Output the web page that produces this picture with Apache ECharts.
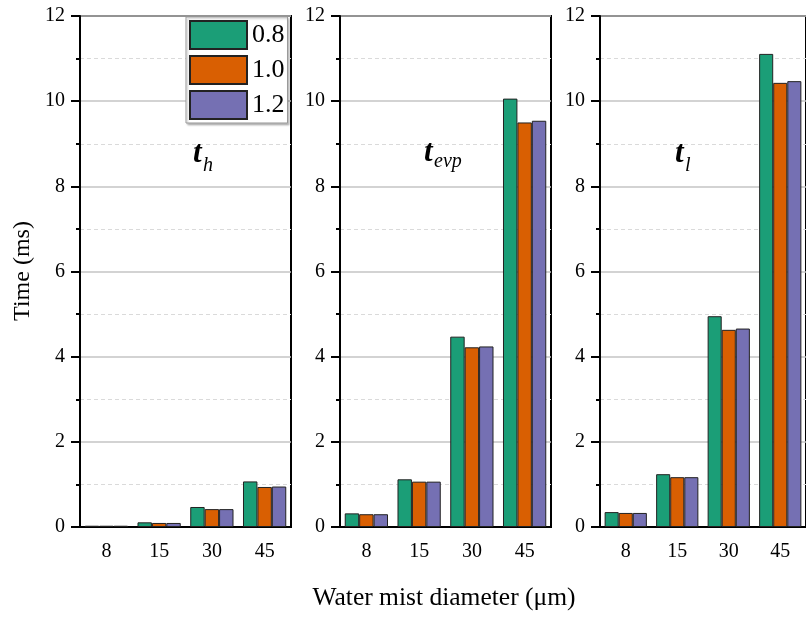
<!DOCTYPE html>
<html>
<head>
<meta charset="utf-8">
<script src="https://cdn.jsdelivr.net/npm/echarts@6/dist/echarts.min.js"></script>
<style>
  html, body { margin: 0; padding: 0; background: #fff; }
  #chart { width: 806px; height: 617px; }
</style>
</head>
<body>
<div id="chart"></div>
<script>
  // 数据
  const categories = ['8', '15', '30', '45']
  const ratioNames = ['0.8', '1.0', '1.2']
  const colors = ['#1b9e77', '#d95f02', '#7570b3']

  const th08 = [0.03, 0.11, 0.47, 1.07]
  const th10 = [0.03, 0.095, 0.42, 0.94]
  const th12 = [0.03, 0.095, 0.42, 0.95]

  const tevp08 = [0.32, 1.12, 4.47, 10.06]
  const tevp10 = [0.30, 1.065, 4.22, 9.50]
  const tevp12 = [0.30, 1.065, 4.24, 9.54]

  const tl08 = [0.35, 1.24, 4.95, 11.11]
  const tl10 = [0.33, 1.17, 4.63, 10.43]
  const tl12 = [0.33, 1.17, 4.66, 10.47]

  const panelData = [
    [th08, th10, th12],
    [tevp08, tevp10, tevp12],
    [tl08, tl10, tl12]
  ]
  const yTicks = [0, 2, 4, 6, 8, 10, 12]

  const font = 'Liberation Serif'
  const panelLeft = [80, 340, 600]
  const panelWidth = 211

  const chart = echarts.init(document.getElementById('chart'), null, { renderer: 'canvas' })

  const grids = []
  const xAxes = []
  const yAxes = []
  const series = []

  panelLeft.forEach((left, p) => {
    // 主网格（带边框）
    grids.push({
      left: left, top: 16, width: panelWidth, bottom: 90,
      show: true, borderColor: '#000', borderWidth: 2, backgroundColor: 'transparent'
    })
    // 辅助网格：只用来画类目边界的短刻度
    grids.push({ left: left, top: 16, width: panelWidth, bottom: 90 })

    xAxes.push({
      type: 'category', gridIndex: p * 2, data: categories,
      axisLine: { lineStyle: { color: '#000', width: 2 } },
      axisTick: { alignWithLabel: true, length: 10, lineStyle: { color: '#000', width: 2 } },
      axisLabel: { color: '#000', fontFamily: font, fontSize: 20, margin: 15 },
      splitLine: { show: false }
    })
    xAxes.push({
      type: 'category', gridIndex: p * 2 + 1, data: categories,
      axisLine: { show: false },
      axisTick: { length: 5, lineStyle: { color: '#000', width: 2 } },
      axisLabel: { show: false }
    })

    yAxes.push({
      type: 'value', gridIndex: p * 2, min: yTicks[0], max: yTicks[yTicks.length - 1], interval: 2,
      axisLine: { show: true, lineStyle: { color: '#000', width: 2 } },
      axisTick: { show: true, length: 9, lineStyle: { color: '#000', width: 2 } },
      minorTick: { show: true, splitNumber: 2, length: 4, lineStyle: { color: '#000', width: 2 } },
      axisLabel: { color: '#000', fontFamily: font, fontSize: 20, margin: 15 },
      splitLine: { show: true, lineStyle: { color: '#c4c4c4', width: 1.5 } },
      minorSplitLine: { show: true, lineStyle: { color: '#dadada', width: 1, type: [4, 3] } }
    })
    yAxes.push({
      type: 'value', gridIndex: p * 2 + 1, min: 0, max: 12, show: false
    })

    panelData[p].forEach((values, s) => {
      series.push({
        type: 'bar',
        name: ratioNames[s],
        xAxisIndex: p * 2,
        yAxisIndex: p * 2,
        data: values,
        barGap: '0%',
        barCategoryGap: '18%',
        itemStyle: { color: colors[s], borderColor: '#222', borderWidth: 1 },
        emphasis: { disabled: true }
      })
    })
  })

  // 面板标签 t_h, t_evp, t_l
  const panelLabels = [
    { main: 't', sub: 'h', x: 193, y: 153, sx: 203, sy: 165.5 },
    { main: 't', sub: 'evp', x: 424, y: 152, sx: 434, sy: 161.5 },
    { main: 't', sub: 'l', x: 675, y: 153, sx: 685, sy: 165.5 }
  ]
  const graphics = []
  panelLabels.forEach(item => {
    graphics.push({
      type: 'text', left: item.x, top: item.y - 15, z: 10,
      style: { text: item.main, fontFamily: font, fontSize: 31, fontWeight: 'bold', fontStyle: 'italic', fill: '#000' }
    })
    graphics.push({
      type: 'text', left: item.sx, top: item.sy - 10, z: 10,
      style: { text: item.sub, fontFamily: font, fontSize: 20, fontStyle: 'italic', fill: '#000' }
    })
  })
  graphics.push({
    type: 'text', x: 444, y: 598.5,
    style: { text: 'Water mist diameter (μm)', fontFamily: font, fontSize: 25.5, fill: '#000', align: 'center', verticalAlign: 'middle' }
  })
  graphics.push({
    type: 'text', x: 23, y: 271, rotation: Math.PI / 2,
    style: { text: 'Time (ms)', fontFamily: font, fontSize: 24, fill: '#000', align: 'center', verticalAlign: 'middle' }
  })

  const option = {
    animation: false,
    backgroundColor: '#fff',
    legend: {
      data: ratioNames,
      orient: 'vertical',
      left: 186, top: 17,
      padding: 3,
      itemGap: 5,
      itemWidth: 57,
      itemHeight: 28,
      icon: 'rect',
      backgroundColor: '#fff',
      borderColor: '#999',
      borderWidth: 1,
      shadowColor: 'rgba(0,0,0,0.25)',
      shadowBlur: 2,
      shadowOffsetX: 1.5,
      shadowOffsetY: 1.5,
      textStyle: { color: '#000', fontFamily: font, fontSize: 26, padding: [0, 0, 0, 0] },
      selectedMode: false
    },
    grid: grids,
    xAxis: xAxes,
    yAxis: yAxes,
    series: series,
    graphic: graphics
  }
  chart.setOption(option)
</script>
</body>
</html>
